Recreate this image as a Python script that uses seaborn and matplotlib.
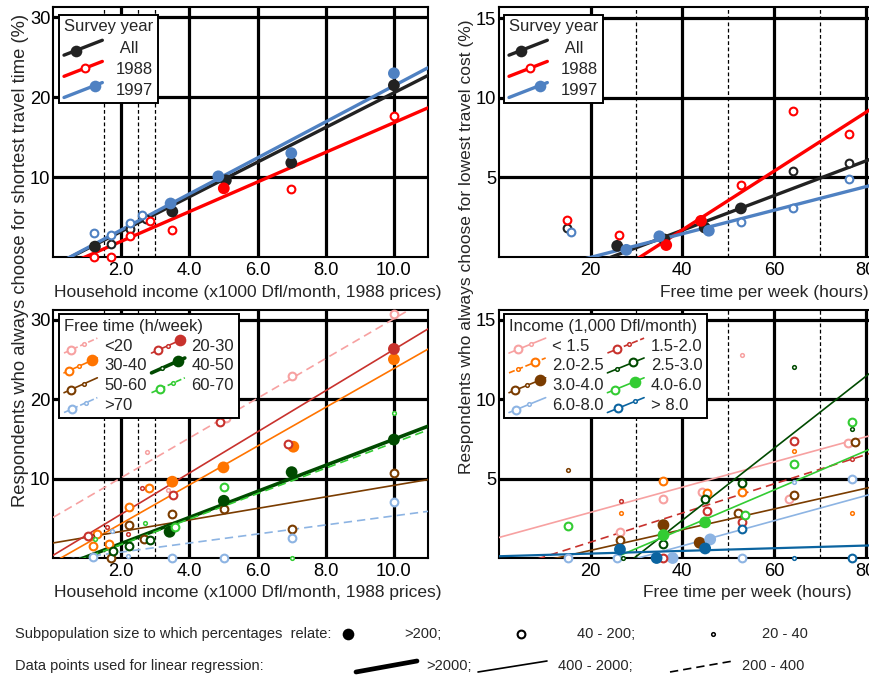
import matplotlib
matplotlib.use("Agg")
import matplotlib.pyplot as plt
from matplotlib.lines import Line2D
from matplotlib.legend_handler import HandlerBase
import numpy as np
import pandas as pd
import seaborn as sns

# ---------------- data ----------------
# top left: % choosing shortest travel time vs household income, by survey year
tl_all_x = [1.23, 1.70, 2.26, 2.73, 3.50, 5.07, 6.99, 10.0]
tl_all_y = [1.3, 1.6, 3.5, 4.8, 5.7, 9.6, 11.8, 21.5]
tl_all_n = [">200", "40-200", "40-200", "40-200", ">200", ">200", ">200", ">200"]
tl_88_x = [1.21, 1.71, 2.26, 2.84, 3.50, 5.01, 6.99, 10.0]
tl_88_y = [0.0, 0.0, 2.6, 4.5, 3.4, 8.6, 8.5, 17.6]
tl_88_n = ["40-200", "40-200", "40-200", "40-200", "40-200", ">200", "40-200", "40-200"]
tl_97_x = [1.21, 1.70, 2.26, 2.62, 3.45, 4.85, 6.99, 10.0]
tl_97_y = [3.0, 2.8, 4.2, 5.2, 6.7, 10.1, 13.0, 23.0]
tl_97_n = ["40-200", "40-200", "40-200", "40-200", ">200", ">200", ">200", ">200"]
tl_labels = [" All", "1988", "1997"]
tl_fit_a = [-1.14, -1.75, -1.13]
tl_fit_b = [2.17, 1.857, 2.257]
tl_fit_n = [">2000", ">2000", ">2000"]

# top right: % choosing lowest travel cost vs free time, by survey year
tr_all_x = [14.9, 25.8, 36.1, 44.9, 52.8, 64.2, 76.5]
tr_all_y = [1.8, 0.7, 1.1, 1.85, 3.05, 5.4, 5.9]
tr_all_n = ["40-200", ">200", ">200", ">200", ">200", "40-200", "40-200"]
tr_88_x = [14.9, 26.3, 36.5, 44.1, 52.8, 64.2, 76.5]
tr_88_y = [2.3, 1.4, 0.75, 2.27, 4.5, 9.2, 7.7]
tr_88_n = ["40-200", "40-200", ">200", ">200", "40-200", "40-200", "40-200"]
tr_97_x = [15.7, 27.8, 35.0, 45.8, 52.8, 64.2, 76.5]
tr_97_y = [1.6, 0.45, 1.3, 1.65, 2.2, 3.05, 4.9]
tr_97_n = ["40-200", ">200", ">200", ">200", "40-200", "40-200", "40-200"]
tr_fit_a = [-2.67, -5.68, -1.50]
tr_fit_b = [0.1087, 0.1844, 0.0739]
tr_fit_n = [">2000", ">2000", ">2000"]

# bottom left: % shortest travel time vs income, by free time (h/week)
bl_labels = ["<20", "30-40", "50-60", ">70", "20-30", "40-50", "60-70"]
bl_lt20_x = [2.75, 3.37, 5.07, 7.0, 10.0]
bl_lt20_y = [13.3, 8.5, 17.6, 22.9, 30.7]
bl_lt20_n = ["20-40", "20-40", "40-200", "40-200", "40-200"]
bl_2030_x = [1.04, 1.59, 2.19, 2.62, 3.52, 4.9, 6.9, 10.0]
bl_2030_y = [2.8, 3.85, 3.0, 8.8, 7.9, 17.1, 14.4, 26.3]
bl_2030_n = ["40-200", "20-40", "20-40", "20-40", "40-200", "40-200", "40-200", ">200"]
bl_3040_x = [1.28, 1.18, 1.65, 2.24, 2.82, 3.50, 5.0, 7.05, 10.0]
bl_3040_y = [3.0, 1.5, 1.7, 6.4, 8.85, 9.6, 11.4, 14.0, 25.0]
bl_3040_n = ["40-200", "40-200", "40-200", "40-200", "40-200", ">200", ">200", ">200", ">200"]
bl_4050_x = [1.77, 2.24, 2.84, 3.42, 5.01, 7.0, 10.0]
bl_4050_y = [0.9, 1.5, 2.25, 3.3, 7.2, 10.8, 14.9]
bl_4050_n = ["40-200", "40-200", "40-200", ">200", ">200", ">200", ">200"]
bl_5060_x = [1.15, 1.70, 2.24, 2.66, 3.50, 5.01, 7.0, 10.0]
bl_5060_y = [2.8, 0.05, 4.2, 2.4, 5.5, 6.2, 3.6, 10.7]
bl_5060_n = ["20-40", "40-200", "40-200", "40-200", "40-200", "40-200", "40-200", "40-200"]
bl_6070_x = [1.23, 2.70, 3.58, 5.01, 7.0, 10.0]
bl_6070_y = [2.4, 4.35, 3.9, 8.9, 0.0, 18.2]
bl_6070_n = ["20-40", "20-40", "40-200", "40-200", "20-40", "20-40"]
bl_gt70_x = [1.18, 1.74, 2.19, 3.50, 5.01, 7.0, 10.0]
bl_gt70_y = [0.1, 3.4, 0.25, 0.0, 0.0, 2.55, 7.05]
bl_gt70_n = ["40-200", "20-40", "20-40", "40-200", "40-200", "40-200", "40-200"]
bl_fit_a = [5.1, -0.56, 1.89, -0.4, 0.33, -1.46, -1.5]
bl_fit_b = [2.50, 2.44, 0.725, 0.57, 2.59, 1.64, 1.60]
bl_fit_n = ["200-400", "400-2000", "400-2000", "200-400", "400-2000", ">2000", "200-400"]

# bottom right: % lowest travel cost vs free time, by income (1,000 Dfl/month)
br_labels = ["< 1.5", "2.0-2.5", "3.0-4.0", "6.0-8.0", "1.5-2.0", "2.5-3.0", "4.0-6.0", "> 8.0"]
br_lt15_x = [26.4, 35.9, 44.3, 53.0, 63.3, 76.2]
br_lt15_y = [1.65, 3.74, 4.16, 12.8, 3.74, 7.23]
br_lt15_n = ["40-200", "40-200", "40-200", "20-40", "40-200", "40-200"]
br_1520_x = [26.6, 35.9, 45.5, 53.0, 64.4, 77.1]
br_1520_y = [3.6, 0.0, 2.95, 2.28, 7.36, 6.25]
br_1520_n = ["20-40", "40-200", "40-200", "40-200", "40-200", "20-40"]
br_2025_x = [26.6, 35.9, 45.5, 53.0, 64.5, 77.1]
br_2025_y = [2.8, 4.85, 4.1, 4.16, 6.7, 2.8]
br_2025_n = ["20-40", "40-200", "40-200", "40-200", "20-40", "20-40"]
br_2530_x = [27.0, 35.9, 45.0, 53.0, 64.5, 77.1]
br_2530_y = [0.0, 0.86, 3.7, 4.72, 12.0, 8.13]
br_2530_n = ["20-40", "40-200", "40-200", "40-200", "20-40", "20-40"]
br_3040_x = [15.0, 26.4, 35.9, 43.8, 52.1, 64.5, 77.6]
br_3040_y = [5.56, 1.13, 2.07, 0.96, 2.8, 3.95, 7.3]
br_3040_n = ["20-40", "40-200", ">200", ">200", "40-200", "40-200", "40-200"]
br_4060_x = [15.0, 35.9, 45.0, 53.8, 64.5, 77.1]
br_4060_y = [2.03, 1.44, 2.24, 2.7, 5.9, 8.55]
br_4060_n = ["40-200", ">200", ">200", "40-200", "40-200", "40-200"]
br_6080_x = [15.0, 25.7, 37.9, 46.1, 53.0, 64.5, 77.1]
br_6080_y = [0.0, 0.0, 0.0, 1.17, 0.0, 4.8, 5.0]
br_6080_n = ["40-200", "40-200", ">200", ">200", "40-200", "20-40", "40-200"]
br_gt80_x = [26.4, 34.4, 45.0, 53.0, 64.5, 77.1]
br_gt80_y = [0.54, 0.0, 0.6, 1.8, 0.0, 0.0]
br_gt80_n = [">200", ">200", ">200", "40-200", "20-40", "40-200"]
# no regression line drawn for 2.0-2.5
br_fit_a = [1.29, None, -0.82, -2.4, -0.83, -6.67, -3.08, 0.11]
br_fit_b = [0.0791, None, 0.065, 0.079, 0.0915, 0.226, 0.1226, 0.0084]
br_fit_n = ["400-2000", "200-400", "400-2000", "400-2000", "200-400", "400-2000", "400-2000", "400-2000"]

# ---------------- styles ----------------
BLACK, RED, BLUE = "#222222", "#ff0000", "#4f81c2"
PINK, DRED, ORANGE = "#f7a1a1", "#c8322d", "#ff7400"
DGREEN, BROWN, GREEN = "#004a00", "#7a3c00", "#33cc33"
LBLUE, DBLUE = "#8db4e3", "#0b64a0"

LINE_KW = {
    ">2000": dict(lw=2.6, ls="-"),
    "400-2000": dict(lw=1.2, ls="-"),
    "200-400": dict(lw=1.2, ls=(0, (5, 3))),
}
TOP_LW = 2.4

sns.set_style("white")
plt.rcParams["font.family"] = ["Liberation Sans", "DejaVu Sans"]
plt.rcParams["font.size"] = 12

W, H = 869, 679
fig = plt.figure(figsize=(W / 100, H / 100), dpi=100)


def px_box(left, top, right, bottom):
    return [left / W, 1 - bottom / H, (right - left) / W, (bottom - top) / H]


ax_tl = fig.add_axes(px_box(53, 7, 428, 257))
ax_tr = fig.add_axes(px_box(499, 7, 871, 257))
ax_bl = fig.add_axes(px_box(53, 310, 428, 558))
ax_br = fig.add_axes(px_box(499, 310, 871, 558))


def marker_kw(n, color):
    if n == ">200":
        return dict(ms=8.4, mfc=color, mec=color, mew=0)
    if n == "40-200":
        return dict(ms=5.6, mfc="white", mec=color, mew=1.5)
    return dict(ms=2.6, mfc="white", mec=color, mew=1.1)


def draw_points(ax, xs, ys, ns, color):
    df = pd.DataFrame({"x": xs, "y": ys, "n": ns})
    for n, sub in df.groupby("n"):
        if n == ">200":
            sns.scatterplot(data=sub, x="x", y="y", ax=ax, s=72, color=color,
                            edgecolor="none", linewidth=0, legend=False,
                            clip_on=False, zorder=5)
        else:
            s, lw = (31, 1.5) if n == "40-200" else (7, 1.1)
            sns.scatterplot(data=sub, x="x", y="y", ax=ax, s=s, color=color,
                            facecolor="white", edgecolor=color, linewidth=lw,
                            legend=False, clip_on=False, zorder=5)


def draw_fit(ax, a, b, n, color, lw=None):
    if a is None:
        return
    x0, x1 = ax.get_xlim()
    xx = np.array([x0, x1])
    kw = dict(LINE_KW[n])
    if lw is not None:
        kw["lw"] = lw
    sns.lineplot(x=xx, y=a + b * xx, ax=ax, color=color, linewidth=kw["lw"],
                 linestyle=kw["ls"], zorder=4)


class SlantHandler(HandlerBase):
    def __init__(self, marks):
        super().__init__()
        self.marks = marks

    def create_artists(self, legend, orig_handle, xdescent, ydescent,
                       width, height, fontsize, trans):
        x0, y0 = -xdescent, -ydescent
        ya, yb = y0 - 0.05 * height, y0 + 0.95 * height
        line = Line2D([x0, x0 + width], [ya, yb], color=orig_handle.get_color(),
                      lw=orig_handle.get_linewidth(), ls=orig_handle.get_linestyle(),
                      transform=trans)
        arts = [line]
        for frac, n in self.marks:
            m = Line2D([x0 + frac * width], [ya + frac * (yb - ya)], ls="none",
                       marker="o", transform=trans,
                       **marker_kw(n, orig_handle.get_color()))
            arts.append(m)
        return arts


def add_legend(ax, title, labels, colors, kws, marks, anchor, ncol=1,
               handlelength=2.2, colspace=0.4, textpad=0.4, spacing=0.18):
    handles = [Line2D([], [], color=c, **k) for c, k in zip(colors, kws)]
    hmap = {h: SlantHandler(m) for h, m in zip(handles, marks)}
    leg = ax.legend(handles, labels, handler_map=hmap, title=title, ncol=ncol,
                    loc="upper left", bbox_to_anchor=anchor, borderaxespad=0,
                    frameon=True, fancybox=False, framealpha=1, edgecolor="black",
                    fontsize=12, title_fontsize=12, handlelength=handlelength,
                    handleheight=1.0, handletextpad=textpad, labelspacing=spacing,
                    borderpad=0.3, columnspacing=colspace, alignment="left")
    leg.get_frame().set_linewidth(1.4)
    leg.set_zorder(20)


def style_axes(ax, xlim, xt, xtl, ylim, yt, vlines):
    ax.set_xlim(*xlim)
    ax.set_ylim(*ylim)
    ax.set_xticks(xt)
    ax.set_xticklabels(xtl)
    ax.set_yticks(yt)
    ax.grid(True, color="black", lw=2.3)
    ax.set_axisbelow(True)
    ax.tick_params(length=0, labelsize=13.2, colors="black")
    ax.tick_params(axis="x", pad=3.5)
    ax.tick_params(axis="y", pad=2)
    for sp in ax.spines.values():
        sp.set_color("black")
        sp.set_linewidth(1.5)
    for v in vlines:
        ax.axvline(v, color="black", lw=0.9, ls=(0, (3, 2)), zorder=1)


style_axes(ax_tl, (0, 11), [2, 4, 6, 8, 10], ["2.0", "4.0", "6.0", "8.0", "10.0"],
           (0, 31.3), [10, 20, 30], [1.5, 2.5, 3.0])
style_axes(ax_bl, (0, 11), [2, 4, 6, 8, 10], ["2.0", "4.0", "6.0", "8.0", "10.0"],
           (0, 31.2), [10, 20, 30], [1.5, 2.5, 3.0])
style_axes(ax_tr, (0, 81.2), [20, 40, 60, 80], ["20", "40", "60", "80"],
           (0, 15.7), [5, 10, 15], [30, 50, 70])
style_axes(ax_br, (0, 81.2), [20, 40, 60, 80], ["20", "40", "60", "80"],
           (0, 15.6), [5, 10, 15], [30, 50, 70])

# ---- top left
tl_cols = [BLACK, RED, BLUE]
for (xs, ys, ns), c, a, b, n in zip(
        [(tl_all_x, tl_all_y, tl_all_n), (tl_88_x, tl_88_y, tl_88_n), (tl_97_x, tl_97_y, tl_97_n)],
        tl_cols, tl_fit_a, tl_fit_b, tl_fit_n):
    draw_fit(ax_tl, a, b, n, c, lw=TOP_LW)
    draw_points(ax_tl, xs, ys, ns, c)

# ---- top right
for (xs, ys, ns), c, a, b, n in zip(
        [(tr_all_x, tr_all_y, tr_all_n), (tr_88_x, tr_88_y, tr_88_n), (tr_97_x, tr_97_y, tr_97_n)],
        tl_cols, tr_fit_a, tr_fit_b, tr_fit_n):
    draw_fit(ax_tr, a, b, n, c, lw=TOP_LW)
    draw_points(ax_tr, xs, ys, ns, c)

year_marks = [[(0.3, ">200")], [(0.55, "40-200")], [(0.8, ">200")]]
for ax in (ax_tl, ax_tr):
    add_legend(ax, "Survey year", tl_labels, tl_cols,
               [dict(lw=TOP_LW, ls="-")] * 3, year_marks,
               (6 / 375, 0.97) if ax is ax_tl else (5 / 372, 0.97),
               handlelength=2.3, textpad=0.8, spacing=0.3)

# ---- bottom left
bl_cols = [PINK, ORANGE, BROWN, LBLUE, DRED, DGREEN, GREEN]
bl_series = [(bl_lt20_x, bl_lt20_y, bl_lt20_n), (bl_3040_x, bl_3040_y, bl_3040_n),
             (bl_5060_x, bl_5060_y, bl_5060_n), (bl_gt70_x, bl_gt70_y, bl_gt70_n),
             (bl_2030_x, bl_2030_y, bl_2030_n), (bl_4050_x, bl_4050_y, bl_4050_n),
             (bl_6070_x, bl_6070_y, bl_6070_n)]
for c, a, b, n in zip(bl_cols, bl_fit_a, bl_fit_b, bl_fit_n):
    draw_fit(ax_bl, a, b, n, c)
for (xs, ys, ns), c in zip(bl_series, bl_cols):
    draw_points(ax_bl, xs, ys, ns, c)
bl_marks = [[(0.2, "40-200"), (0.6, "20-40")],
            [(0.15, "40-200"), (0.45, "20-40"), (0.85, ">200")],
            [(0.2, "40-200"), (0.6, "20-40")],
            [(0.25, "40-200"), (0.65, "20-40")],
            [(0.2, "40-200"), (0.5, "20-40"), (0.85, ">200")],
            [(0.3, "20-40"), (0.8, ">200")],
            [(0.25, "40-200"), (0.65, "20-40")]]
add_legend(ax_bl, "Free time (h/week)", bl_labels, bl_cols,
           [LINE_KW[n] for n in bl_fit_n], bl_marks, (6 / 375, 0.985), ncol=2,
           handlelength=2.0, colspace=0.3, spacing=0.22)

# ---- bottom right
br_cols = [PINK, ORANGE, BROWN, LBLUE, DRED, DGREEN, GREEN, DBLUE]
br_series = [(br_lt15_x, br_lt15_y, br_lt15_n), (br_2025_x, br_2025_y, br_2025_n),
             (br_3040_x, br_3040_y, br_3040_n), (br_6080_x, br_6080_y, br_6080_n),
             (br_1520_x, br_1520_y, br_1520_n), (br_2530_x, br_2530_y, br_2530_n),
             (br_4060_x, br_4060_y, br_4060_n), (br_gt80_x, br_gt80_y, br_gt80_n)]
for c, a, b, n in zip(br_cols, br_fit_a, br_fit_b, br_fit_n):
    draw_fit(ax_br, a, b, n, c, lw=1.6 if c == DBLUE else None)
for (xs, ys, ns), c in zip(br_series, br_cols):
    draw_points(ax_br, xs, ys, ns, c)
br_marks = [[(0.25, "40-200"), (0.6, "20-40")],
            [(0.25, "20-40"), (0.7, "40-200")],
            [(0.15, "40-200"), (0.5, "20-40"), (0.85, ">200")],
            [(0.2, "40-200"), (0.55, "20-40")],
            [(0.25, "40-200"), (0.6, "20-40")],
            [(0.25, "20-40"), (0.7, "40-200")],
            [(0.2, "40-200"), (0.75, ">200")],
            [(0.3, "40-200"), (0.75, "20-40")]]
add_legend(ax_br, "Income (1,000 Dfl/month)", br_labels, br_cols,
           [LINE_KW[n] for n in br_fit_n], br_marks, (5 / 372, 0.985), ncol=2,
           handlelength=2.2, colspace=0.2, spacing=0.22)

for ax in (ax_tl, ax_tr, ax_bl, ax_br):
    ax.set_xlabel("")
    ax.set_ylabel("")

# ---- overlay for shared labels and the footer key (pixel coordinates)
ov = fig.add_axes([0, 0, 1, 1])
ov.set_xlim(0, W)
ov.set_ylim(H, 0)
ov.axis("off")
ov.patch.set_visible(False)

xl = "Household income (x1000 Dfl/month, 1988 prices)"
ov.text(248, 292, xl, ha="center", va="center", fontsize=12.5)
ov.text(248, 592, xl, ha="center", va="center", fontsize=12.5)
ov.text(764, 292, "Free time per week (hours)", ha="center", va="center", fontsize=12.5)
ov.text(747, 592, "Free time per week (hours)", ha="center", va="center", fontsize=12.5)
ov.text(21, 260, "Respondents who always choose for shortest travel time (%)",
        rotation=90, ha="center", va="center", fontsize=13.2)
ov.text(467, 247, "Respondents who always choose for lowest travel cost (%)",
        rotation=90, ha="center", va="center", fontsize=12.5)

fs = 10.5
ov.text(15, 634, "Subpopulation size to which percentages  relate:", ha="left", va="center", fontsize=fs)
for xm, n, lab in [(348, ">200", ">200;"), (521, "40-200", "40 - 200;"), (713, "20-40", "20 - 40")]:
    ov.plot([xm], [634], marker="o", ls="none", **marker_kw(n, "black"))
    ov.text(xm + 56 if n != "20-40" else xm + 49, 634, lab, ha="left", va="center", fontsize=fs)
ov.text(15, 666, "Data points used for linear regression:", ha="left", va="center", fontsize=fs)
for (xa, xb), n, lab, xt in [((356, 417), ">2000", ">2000;", 426),
                             ((478, 547), "400-2000", "400 - 2000;", 558),
                             ((670, 733), "200-400", "200 - 400", 742)]:
    kw = LINE_KW[n]
    ov.plot([xa, xb], [672, 661], color="black", lw=kw["lw"] + (0.8 if n == ">2000" else 0),
            ls=kw["ls"])
    ov.text(xt, 666, lab, ha="left", va="center", fontsize=fs)

fig.savefig("out.png", dpi=100)
